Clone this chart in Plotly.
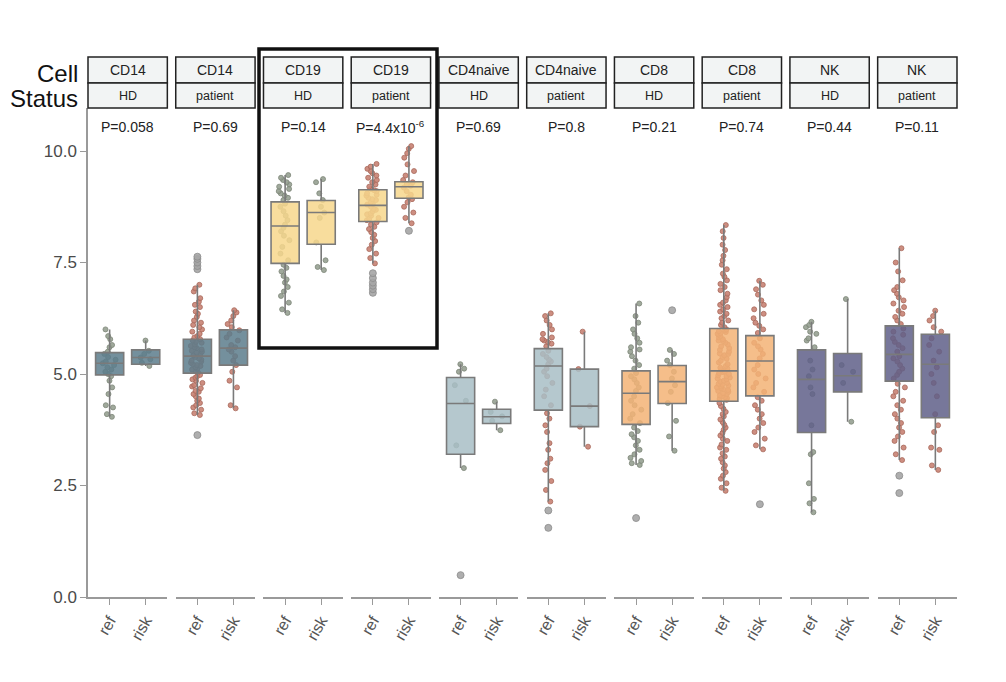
import plotly.graph_objects as go
from plotly.subplots import make_subplots

# ---------------- data ----------------
cell_types = ["CD14", "CD14", "CD19", "CD19", "CD4naive", "CD4naive", "CD8", "CD8", "NK", "NK"]
statuses = ["HD", "patient", "HD", "patient", "HD", "patient", "HD", "patient", "HD", "patient"]
p_labels = ["P=0.058", "P=0.69", "P=0.14", "P=4.4x10<sup>-6</sup>", "P=0.69",
            "P=0.8", "P=0.21", "P=0.74", "P=0.44", "P=0.11"]
groups = ["ref", "risk"]
y_tick_vals = [0.0, 2.5, 5.0, 7.5, 10.0]
y_tick_text = ["0.0", "2.5", "5.0", "7.5", "10.0"]

ref_q1 = [4.98, 5.02, 7.48, 8.42, 3.20, 4.19, 3.87, 4.39, 3.69, 4.84]
ref_median = [5.24, 5.40, 8.32, 8.78, 4.34, 5.18, 4.57, 5.07, 4.88, 5.44]
ref_q3 = [5.48, 5.78, 8.86, 9.13, 4.92, 5.57, 5.07, 6.02, 5.54, 6.08]
ref_low = [4.04, 4.08, 6.37, 7.48, 2.89, 2.14, 2.96, 2.38, 1.90, 3.07]
ref_high = [6.00, 7.00, 9.46, 9.71, 5.22, 6.36, 6.58, 8.34, 6.17, 7.82]

risk_q1 = [5.22, 5.20, 7.91, 8.94, 3.89, 3.82, 4.34, 4.51, 4.60, 4.02]
risk_median = [5.37, 5.58, 8.62, 9.20, 4.04, 4.28, 4.83, 5.29, 4.96, 5.22]
risk_q3 = [5.54, 5.99, 8.89, 9.31, 4.21, 5.11, 5.19, 5.86, 5.46, 5.89]
risk_low = [5.18, 4.23, 7.33, 8.38, 3.74, 3.37, 3.28, 3.31, 3.93, 2.85]
risk_high = [5.75, 6.43, 9.37, 10.11, 4.38, 5.95, 5.54, 7.09, 6.68, 6.42]

ref_fliers = [[], [7.35, 7.42, 7.50, 7.58, 7.63, 3.63], [], [6.82, 6.90, 6.98, 7.05, 7.15, 7.26],
              [0.49], [1.94, 1.55], [1.77], [], [], [2.72, 2.33]]
risk_fliers = [[], [], [], [8.21], [], [], [6.43], [2.08], [], []]

cd14_hd_ref = [4.04, 4.10, 4.25, 4.30, 4.55, 4.70, 4.85, 4.95, 5.00, 5.05, 5.10, 5.15, 5.20,
               5.24, 5.28, 5.32, 5.38, 5.45, 5.50, 5.60, 5.65, 5.78, 5.85, 6.00]
cd14_hd_risk = [5.18, 5.25, 5.33, 5.37, 5.45, 5.52, 5.75]
cd14_pt_ref = [4.08, 4.12, 4.20, 4.25, 4.30, 4.35, 4.40, 4.45, 4.50, 4.55, 4.60, 4.62, 4.68,
               4.72, 4.75, 4.80, 4.85, 4.88, 4.92, 4.95, 4.98, 5.03, 5.06, 5.10, 5.12, 5.15,
               5.18, 5.20, 5.22, 5.25, 5.28, 5.30, 5.32, 5.35, 5.38, 5.42, 5.45, 5.48, 5.50,
               5.52, 5.55, 5.58, 5.60, 5.63, 5.66, 5.70, 5.72, 5.75, 5.78, 5.82, 5.85, 5.90,
               5.95, 6.00, 6.05, 6.10, 6.15, 6.20, 6.28, 6.35, 6.40, 6.50, 6.55, 6.62, 6.70,
               6.85, 6.92, 7.00]
cd14_pt_risk = [4.23, 4.30, 4.70, 4.85, 5.05, 5.20, 5.30, 5.40, 5.50, 5.55, 5.60, 5.65, 5.75,
                5.82, 5.90, 5.98, 6.05, 6.12, 6.20, 6.30, 6.38, 6.43]
cd19_hd_ref = [6.37, 6.45, 6.60, 6.75, 6.85, 6.95, 7.05, 7.12, 7.20, 7.30, 7.38, 7.45, 7.55,
               7.70, 7.85, 8.00, 8.10, 8.20, 8.28, 8.35, 8.45, 8.55, 8.65, 8.75, 8.82, 8.90,
               8.95, 9.00, 9.05, 9.10, 9.15, 9.20, 9.25, 9.30, 9.35, 9.40, 9.46]
cd19_hd_risk = [7.33, 7.40, 7.55, 7.95, 8.50, 8.62, 8.75, 8.90, 9.05, 9.30, 9.37]
cd19_pt_ref = [7.48, 7.60, 7.70, 7.80, 7.90, 7.98, 8.05, 8.12, 8.18, 8.25, 8.30, 8.35, 8.40,
               8.45, 8.48, 8.50, 8.55, 8.58, 8.60, 8.65, 8.68, 8.70, 8.75, 8.80, 8.82, 8.85,
               8.90, 8.92, 8.95, 9.00, 9.02, 9.05, 9.10, 9.12, 9.15, 9.20, 9.25, 9.30, 9.35,
               9.40, 9.45, 9.50, 9.55, 9.60, 9.65, 9.71]
cd19_pt_risk = [8.38, 8.50, 8.62, 8.75, 8.85, 8.92, 8.96, 9.02, 9.10, 9.18, 9.22, 9.26, 9.30,
                9.35, 9.45, 9.55, 9.70, 9.85, 9.95, 10.05, 10.11]
cd4n_hd_ref = [2.89, 3.40, 4.40, 4.75, 5.05, 5.12, 5.22]
cd4n_hd_risk = [3.74, 3.95, 4.05, 4.15, 4.38]
cd4n_pt_ref = [2.14, 2.40, 2.60, 2.85, 3.00, 3.10, 3.30, 3.45, 3.70, 3.85, 4.00, 4.12, 4.30,
               4.50, 4.65, 4.80, 4.95, 5.05, 5.12, 5.22, 5.28, 5.32, 5.38, 5.45, 5.52, 5.62,
               5.68, 5.72, 5.75, 5.78, 5.82, 5.90, 6.00, 6.10, 6.20, 6.30, 6.36]
cd4n_pt_risk = [3.37, 3.82, 4.28, 5.11, 5.95]
cd8_hd_ref = [2.96, 3.00, 3.05, 3.12, 3.20, 3.30, 3.40, 3.50, 3.58, 3.65, 3.72, 3.80, 3.90,
              4.00, 4.10, 4.20, 4.30, 4.40, 4.50, 4.62, 4.70, 4.80, 4.88, 4.95, 5.02, 5.12,
              5.20, 5.30, 5.40, 5.50, 5.55, 5.60, 5.70, 5.80, 5.90, 6.00, 6.15, 6.30, 6.58]
cd8_hd_risk = [3.28, 3.60, 3.95, 4.35, 4.60, 4.75, 4.90, 5.05, 5.20, 5.30, 5.45, 5.54]
cd8_pt_ref = [2.38, 2.45, 2.55, 2.65, 2.72, 2.80, 2.88, 2.95, 3.02, 3.10, 3.15, 3.22, 3.30,
              3.35, 3.42, 3.50, 3.55, 3.62, 3.68, 3.75, 3.80, 3.86, 3.92, 3.98, 4.05, 4.10,
              4.15, 4.22, 4.28, 4.35, 4.42, 4.44, 4.46, 4.48, 4.50, 4.52, 4.55, 4.57, 4.60,
              4.62, 4.64, 4.66, 4.68, 4.70, 4.72, 4.74, 4.76, 4.78, 4.80, 4.83, 4.85, 4.88,
              4.90, 4.92, 4.95, 4.97, 5.00, 5.02, 5.04, 5.06, 5.10, 5.12, 5.14, 5.18, 5.22,
              5.26, 5.30, 5.34, 5.38, 5.42, 5.45, 5.46, 5.50, 5.54, 5.58, 5.62, 5.66, 5.70,
              5.74, 5.75, 5.78, 5.82, 5.85, 5.88, 5.90, 5.92, 5.94, 5.96, 5.98, 6.00, 6.05,
              6.10, 6.15, 6.20, 6.25, 6.30, 6.35, 6.40, 6.45, 6.50, 6.55, 6.60, 6.65, 6.72,
              6.80, 6.88, 6.95, 7.02, 7.10, 7.18, 7.25, 7.35, 7.45, 7.55, 7.65, 7.78, 7.90,
              8.05, 8.20, 8.34]
cd8_pt_risk = [3.31, 3.40, 3.55, 3.70, 3.80, 3.90, 4.00, 4.10, 4.20, 4.30, 4.40, 4.48, 4.60,
               4.70, 4.80, 4.90, 5.00, 5.10, 5.20, 5.35, 5.45, 5.55, 5.62, 5.70, 5.80, 5.92,
               6.00, 6.08, 6.15, 6.25, 6.35, 6.45, 6.55, 6.65, 6.78, 6.90, 7.00, 7.09]
nk_hd_ref = [1.90, 2.10, 2.20, 2.55, 3.20, 3.25, 3.85, 4.55, 4.70, 4.95, 5.10, 5.30, 5.60,
             5.75, 5.80, 5.90, 5.95, 6.05, 6.10, 6.17]
nk_hd_risk = [3.93, 4.80, 5.05, 5.20, 6.68]
nk_pt_ref = [3.07, 3.20, 3.35, 3.50, 3.60, 3.70, 3.80, 3.90, 4.00, 4.10, 4.20, 4.30, 4.40,
             4.50, 4.60, 4.70, 4.78, 4.90, 4.98, 5.05, 5.12, 5.20, 5.28, 5.35, 5.40, 5.50,
             5.58, 5.65, 5.72, 5.80, 5.88, 5.95, 6.02, 6.12, 6.20, 6.28, 6.35, 6.42, 6.50,
             6.58, 6.65, 6.72, 6.80, 6.88, 6.95, 7.10, 7.30, 7.50, 7.82]
nk_pt_risk = [2.85, 2.95, 3.30, 3.35, 3.70, 3.85, 4.10, 4.50, 4.80, 5.00, 5.15, 5.30, 5.50,
              5.65, 5.80, 5.95, 6.05, 6.20, 6.30, 6.42]

ref_points = [cd14_hd_ref, cd14_pt_ref, cd19_hd_ref, cd19_pt_ref, cd4n_hd_ref,
              cd4n_pt_ref, cd8_hd_ref, cd8_pt_ref, nk_hd_ref, nk_pt_ref]
risk_points = [cd14_hd_risk, cd14_pt_risk, cd19_hd_risk, cd19_pt_risk, cd4n_hd_risk,
               cd4n_pt_risk, cd8_hd_risk, cd8_pt_risk, nk_hd_risk, nk_pt_risk]

# ---------------- styles ----------------
box_fill = {"CD14": "rgba(92,125,140,0.85)", "CD19": "rgba(247,215,140,0.85)",
            "CD4naive": "rgba(168,190,197,0.85)", "CD8": "rgba(243,179,117,0.85)",
            "NK": "rgba(95,95,136,0.85)"}
point_style = {"HD": dict(color="rgba(150,160,145,0.9)", line=dict(color="#7e8778", width=0.8)),
               "patient": dict(color="rgba(200,130,115,0.9)", line=dict(color="#a86a5c", width=0.8))}
edge_gray = "#7a7a7a"
FONT = "Arial, Liberation Sans, sans-serif"

W, H = 1006, 682
L, R, T, B = 88, 49, 108, 85
PW = W - L - R
PH = H - T - B
npan = len(cell_types)
gap_px = 8.4

fig = make_subplots(rows=1, cols=npan, shared_yaxes=True,
                    horizontal_spacing=gap_px / PW)


def xp(px):
    return (px - L) / PW


def yp(py):
    return (H - B - py) / PH


for i in range(npan):
    col = i + 1
    ct = cell_types[i]
    st = statuses[i]
    stats = [
        (ref_q1[i], ref_median[i], ref_q3[i], ref_low[i], ref_high[i], ref_points[i], ref_fliers[i]),
        (risk_q1[i], risk_median[i], risk_q3[i], risk_low[i], risk_high[i], risk_points[i], risk_fliers[i]),
    ]
    for g, (q1, md, q3, lo, hi, pts, fl) in zip(groups, stats):
        # jittered raw points (drawn first, behind the translucent box)
        fig.add_trace(go.Box(
            x=[g] * len(pts), y=pts, boxpoints="all", jitter=0.5, pointpos=0,
            fillcolor="rgba(0,0,0,0)", line=dict(width=0, color="rgba(0,0,0,0)"),
            width=0.78, marker=dict(size=5, **point_style[st]),
            showlegend=False, hoverinfo="y"), row=1, col=col)
        # summary box
        fig.add_trace(go.Box(
            x=[g], q1=[q1], median=[md], q3=[q3], lowerfence=[lo], upperfence=[hi],
            fillcolor=box_fill[ct], line=dict(color=edge_gray, width=1.6),
            whiskerwidth=0, width=0.78, boxpoints=False,
            showlegend=False), row=1, col=col)
        # outliers
        if fl:
            fig.add_trace(go.Box(
                x=[g] * len(fl), y=fl, boxpoints="all", jitter=0, pointpos=0,
                fillcolor="rgba(0,0,0,0)", line=dict(width=0, color="rgba(0,0,0,0)"),
                width=0.78,
                marker=dict(size=7, color="rgba(165,165,165,0.9)",
                            line=dict(color="#8c8c8c", width=0.8)),
                showlegend=False), row=1, col=col)

fig.update_layout(boxmode="overlay")

fig.update_xaxes(type="category", categoryorder="array", categoryarray=groups,
                 range=[-0.6, 1.6], showline=True, linecolor="#9a9a9a", linewidth=2,
                 ticks="outside", tickcolor="#9a9a9a", ticklen=6, tickwidth=1,
                 tickangle=-60, tickfont=dict(size=16, color="#555555", family=FONT),
                 showgrid=False, zeroline=False, fixedrange=True)
fig.update_yaxes(range=[0, PH / 44.6], showgrid=False, zeroline=False, fixedrange=True)
fig.update_yaxes(showline=True, linecolor="#9a9a9a", linewidth=1.5, ticks="outside",
                 tickcolor="#9a9a9a", ticklen=6, tickvals=y_tick_vals, ticktext=y_tick_text,
                 tickfont=dict(size=17, color="#4a4a4a", family=FONT), row=1, col=1)
for c in range(2, npan + 1):
    fig.update_yaxes(showline=False, ticks="", showticklabels=False, row=1, col=c)

shapes = []
annotations = []
strip_top, strip_mid, strip_bot = 57, 83, 108
for i in range(npan):
    key = "xaxis" if i == 0 else f"xaxis{i + 1}"
    d0, d1 = fig.layout[key].domain
    xc = (d0 + d1) / 2
    for (ya, yb) in [(strip_top, strip_mid), (strip_mid, strip_bot)]:
        shapes.append(dict(type="rect", xref="paper", yref="paper",
                           x0=d0, x1=d1, y0=yp(yb), y1=yp(ya),
                           fillcolor="#f2f4f4", line=dict(color="#222222", width=1.5),
                           layer="above"))
    annotations.append(dict(x=xc, y=yp((strip_top + strip_mid) / 2), xref="paper", yref="paper",
                            text=cell_types[i], showarrow=False, xanchor="center", yanchor="middle",
                            font=dict(size=14, color="#222222", family=FONT)))
    annotations.append(dict(x=xc, y=yp((strip_mid + strip_bot) / 2), xref="paper", yref="paper",
                            text=statuses[i], showarrow=False, xanchor="center", yanchor="middle",
                            font=dict(size=12.5, color="#222222", family=FONT)))
    annotations.append(dict(x=xc, y=yp(127), xref="paper", yref="paper",
                            text=p_labels[i], showarrow=False, xanchor="center", yanchor="middle",
                            font=dict(size=14, color="#222222", family=FONT)))

annotations.append(dict(x=xp(80), y=yp(73), xref="paper", yref="paper", text="Cell",
                        showarrow=False, xanchor="right", yanchor="middle",
                        font=dict(size=24, color="#111111", family=FONT)))
annotations.append(dict(x=xp(80), y=yp(98), xref="paper", yref="paper", text="Status",
                        showarrow=False, xanchor="right", yanchor="middle",
                        font=dict(size=24, color="#111111", family=FONT)))

# highlight frame around the CD19 panels
shapes.append(dict(type="rect", xref="paper", yref="paper",
                   x0=xp(259), x1=xp(437), y0=yp(348), y1=yp(49),
                   line=dict(color="#111111", width=3.5), fillcolor="rgba(0,0,0,0)",
                   layer="above"))

fig.update_layout(width=W, height=H, margin=dict(l=L, r=R, t=T, b=B),
                  paper_bgcolor="white", plot_bgcolor="white",
                  shapes=shapes, annotations=annotations, showlegend=False,
                  font=dict(family=FONT))

fig.write_html("out.html")
